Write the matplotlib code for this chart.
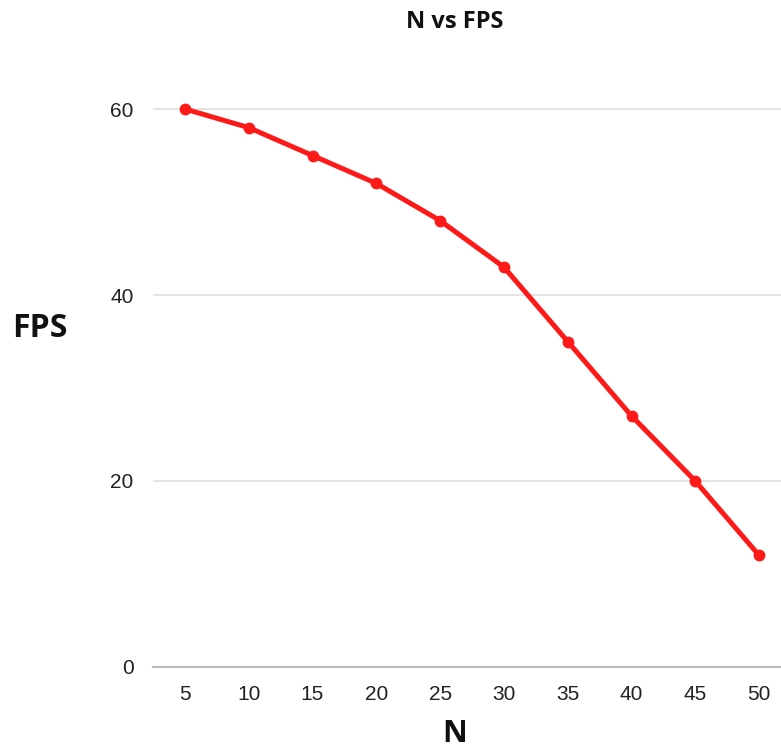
import numpy as np
import matplotlib.pyplot as plt

n_vals = ["5", "10", "15", "20", "25", "30", "35", "40", "45", "50"]
fps = [60, 58, 55, 52, 48, 43, 35, 27, 20, 12]
yticks = [0, 20, 40, 60]

W, H = 781, 751
fig = plt.figure(figsize=(W / 100, H / 100), dpi=100)
# plot area: left edge at px 153, runs a bit past the right border
ax = fig.add_axes([153 / W, (H - 667) / H, (791 - 153) / W, (667 - 16) / H])

x = np.arange(len(n_vals))
ax.plot(x, fps, color="#ff1a1a", lw=3.6, marker="o", ms=7.5, solid_capstyle="round")

ax.set_xlim(-0.5, len(n_vals) - 0.5)
ax.set_ylim(0, 70)
ax.set_yticks(yticks)
ax.set_xticks(x)
ax.set_xticklabels(n_vals)
ax.grid(axis="y", color="#dcdcdc", lw=1.1)
ax.set_axisbelow(True)
for s in ["top", "right", "left"]:
    ax.spines[s].set_visible(False)
ax.spines["bottom"].set_color("#bdbdbd")
ax.spines["bottom"].set_linewidth(1.6)
ax.tick_params(length=0, labelsize=15, colors="#222222")
ax.tick_params(axis="y", pad=14)
ax.tick_params(axis="x", pad=13)
for lab in ax.get_xticklabels() + ax.get_yticklabels():
    lab.set_fontfamily("Liberation Sans")

fig.text(455 / W, 1 - 22 / H, "N vs FPS", ha="center", va="center",
         fontsize=17, fontweight="bold", family="Open Sans", color="#111111")
fig.text(40 / W, 1 - 329 / H, "FPS", ha="center", va="center",
         fontsize=23, fontweight="bold", family="Open Sans", color="#111111")
fig.text(455 / W, 1 - 734 / H, "N", ha="center", va="center",
         fontsize=22, fontweight="bold", family="Open Sans", color="#111111")

fig.savefig("out.png", dpi=100)
